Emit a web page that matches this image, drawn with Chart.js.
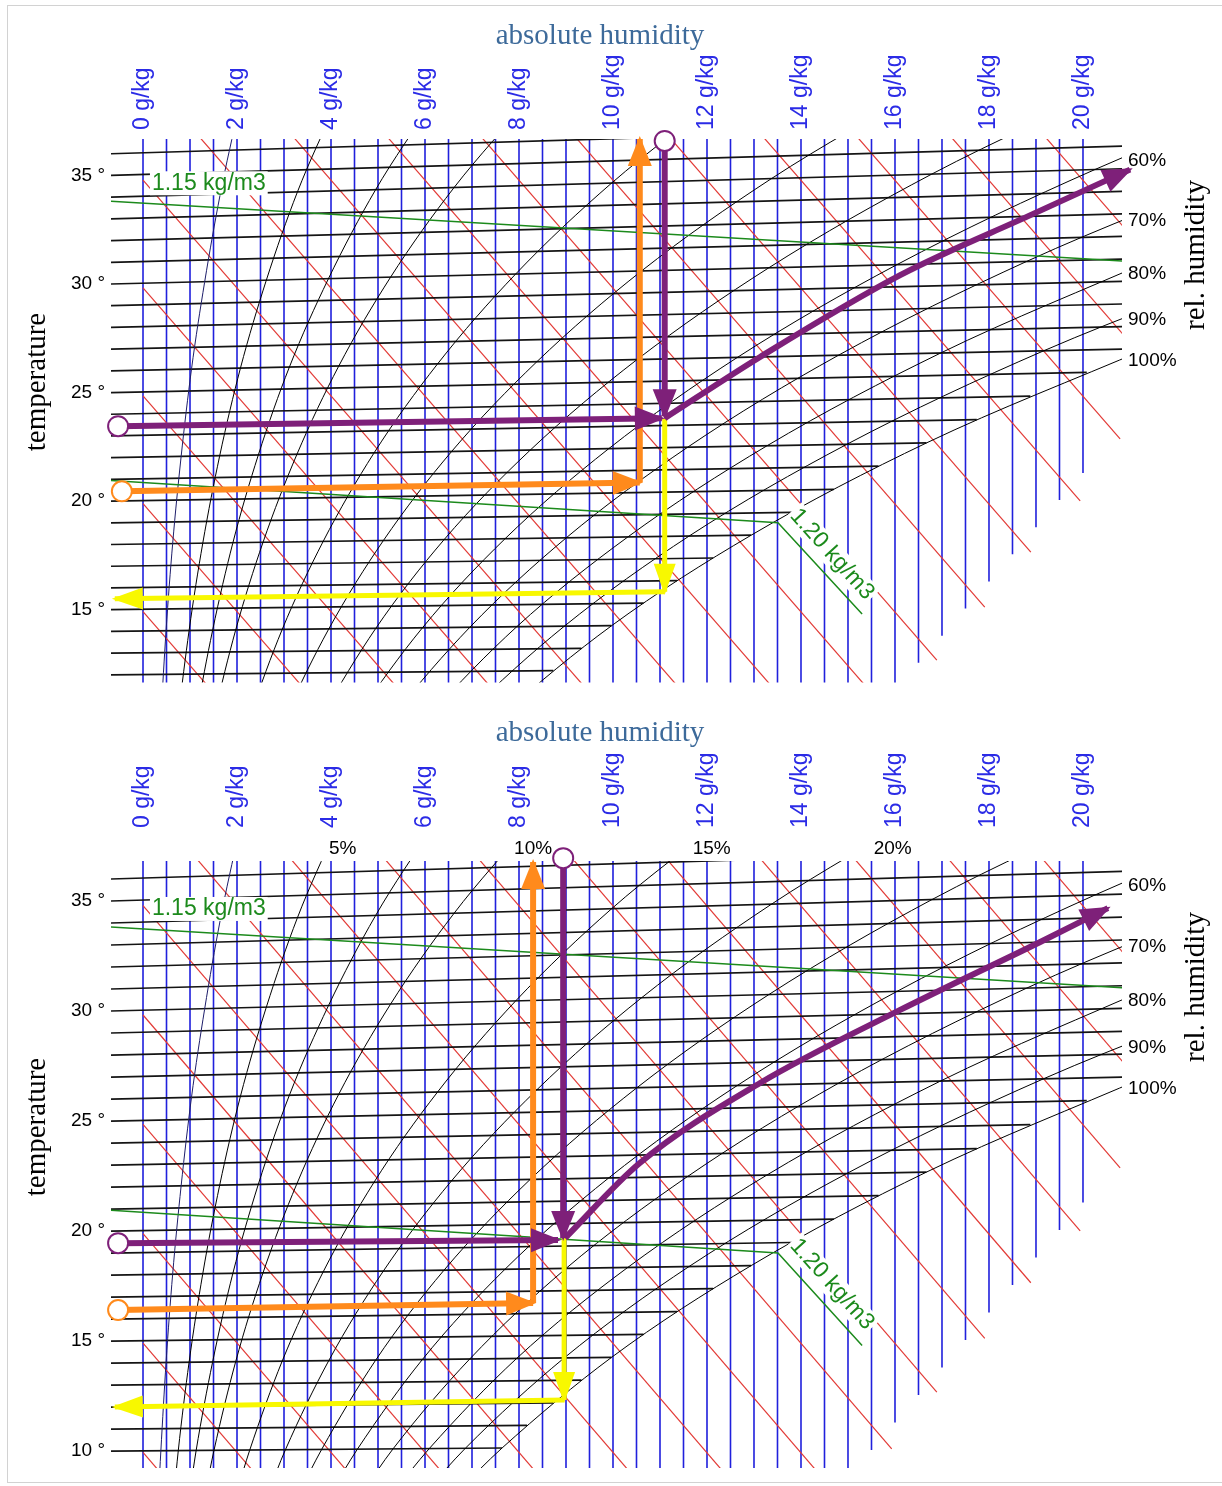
<!DOCTYPE html>
<html>
<head>
<meta charset="utf-8">
<script src="https://cdn.jsdelivr.net/npm/chart.js@4.4.1/dist/chart.umd.min.js"></script>
<style>
body { margin: 0; background: #fff; }
#wrap { position: relative; width: 1222px; height: 1486px; overflow: hidden; }
#frame { position: absolute; left: 7px; top: 5px; width: 1230px; height: 1478px; border: 1px solid #d2d2d2; box-sizing: border-box; }
canvas { position: absolute; left: 0; }
#c1 { top: 0; }
#c2 { top: 700px; }
</style>
</head>
<body>
<div id="wrap">
  <div id="frame"></div>
  <canvas id="c1" width="1222" height="700"></canvas>
  <canvas id="c2" width="1222" height="786"></canvas>
</div>
<script>
// x = absolute humidity (g/kg), y = temperature (deg C, read at 0 g/kg)
var xTicks = [0, 2, 4, 6, 8, 10, 12, 14, 16, 18, 20];
var tempTicksTop = [15, 20, 25, 30, 35];
var tempTicksBottom = [10, 15, 20, 25, 30, 35];

// blue lines of constant absolute humidity and the temperature where each one stops
var blueX = [0, 0.5, 1, 1.5, 2, 2.5, 3, 3.5, 4, 4.5, 5, 5.5, 6, 6.5, 7, 7.5, 8, 8.5, 9, 9.5,
  10, 10.5, 11, 11.5, 12, 12.5, 13, 13.5, 14, 14.5, 15, 15.5, 16, 16.5, 17, 17.5, 18, 18.5, 19, 19.5, 20];
var blueEnd = [5, 5, 5, 5, 5, 5, 5, 5, 5, 5, 5, 5, 5, 5, 5, 5, 5, 5, 5, 5,
  5, 5, 5, 5, 5, 5, 5, 5, 5, 5, 5, 10.05, 11.3, 12.55, 13.8, 15.05, 16.3, 17.55, 18.8, 20.05, 21.3];

// isotherms (black, slightly rising), end point at saturation or right border
var isoT = [10, 11, 12, 13, 14, 15, 16, 17, 18, 19, 20, 21, 22, 23, 24, 25, 26, 27, 28, 29, 30, 31, 32, 33, 34, 35, 36];
var isoEndX = [7.64, 8.17, 8.73, 9.33, 9.97, 10.65, 11.36, 12.13, 12.94, 13.79, 14.70, 15.65, 16.67, 17.74, 18.88, 20.08,
  20.83, 20.83, 20.83, 20.83, 20.83, 20.83, 20.83, 20.83, 20.83, 20.83, 20.83];
var isoEndY = [10.14, 11.17, 12.19, 13.22, 14.26, 15.30, 16.34, 17.38, 18.43, 19.48, 20.54, 21.61, 22.68, 23.75, 24.84, 25.93,
  27.00, 28.04, 29.08, 30.12, 31.15, 32.19, 33.23, 34.27, 35.31, 36.35, 37.39];

// red lines of constant enthalpy (kJ/kg)
var redH = [10, 15, 20, 25, 30, 35, 40, 45, 50, 55, 60, 65, 70, 75, 80, 85];
var redStart = [[0, 9.94], [0, 14.91], [0, 19.88], [0, 24.85], [0, 29.82], [0, 34.79], [0, 39.76], [0, 44.73],
  [0, 49.70], [0, 54.67], [0, 59.64], [0, 64.61], [0, 69.58], [0, 74.55], [0, 79.52], [0, 84.49]];
var redEnd = [[2.39, 4], [4.39, 4], [6.39, 4], [8.39, 4], [10.39, 4], [12.39, 4], [14.38, 4], [16.38, 4],
  [15.93, 10.10], [16.89, 12.68], [17.91, 15.12], [18.89, 17.65], [19.94, 20.01], [20.79, 22.87], [20.9, 27.56], [20.9, 32.54]];

// relative humidity curves
var rhPct = [5, 10, 15, 20, 30, 40, 50, 60, 70, 80, 90, 100];
var rhCurves = [
  [[0.33, 8.00], [0.38, 10.01], [0.49, 14.01], [0.63, 18.02], [0.81, 22.03], [1.03, 26.05], [1.31, 30.07], [1.64, 34.10], [2.04, 38.14]],
  [[0.66, 8.01], [0.75, 10.01], [0.98, 14.03], [1.27, 18.04], [1.63, 22.07], [2.07, 26.10], [2.62, 30.15], [3.28, 34.21], [4.10, 38.29]],
  [[0.99, 8.01], [1.13, 10.02], [1.48, 14.04], [1.91, 18.06], [2.45, 22.10], [3.11, 26.15], [3.94, 30.22], [4.94, 34.31], [6.17, 38.43]],
  [[1.32, 8.02], [1.51, 10.03], [1.97, 14.05], [2.55, 18.08], [3.27, 22.13], [4.16, 26.20], [5.26, 30.29], [6.61, 34.42], [8.25, 38.58]],
  [[1.98, 8.03], [2.27, 10.04], [2.96, 14.08], [3.83, 18.13], [4.91, 22.20], [6.26, 26.30], [7.92, 30.44], [9.96, 34.63], [12.45, 38.88]],
  [[2.65, 8.04], [3.03, 10.06], [3.95, 14.10], [5.11, 18.17], [6.56, 22.27], [8.37, 26.40], [10.60, 30.59], [13.36, 34.84], [16.72, 39.18]],
  [[3.31, 8.05], [3.80, 10.07], [4.95, 14.13], [6.40, 18.21], [8.23, 22.33], [10.50, 26.50], [13.31, 30.74], [16.78, 35.06], [21.04, 39.48]],
  [[3.98, 8.06], [4.56, 10.08], [5.94, 14.15], [7.70, 18.26], [9.90, 22.40], [12.64, 26.61], [16.04, 30.89], [20.25, 35.27], [25.44, 39.79]],
  [[4.65, 8.07], [5.32, 10.10], [6.95, 14.18], [9.00, 18.30], [11.58, 22.47], [14.79, 26.71], [18.80, 31.04], [23.76, 35.49]],
  [[5.31, 8.08], [6.09, 10.11], [7.95, 14.21], [10.31, 18.34], [13.27, 22.54], [16.97, 26.82], [21.57, 31.20]],
  [[5.99, 8.09], [6.86, 10.13], [8.96, 14.23], [11.62, 18.39], [14.97, 22.61], [19.16, 26.92], [24.39, 31.35]],
  [[6.66, 8.10], [7.64, 10.14], [9.97, 14.26], [12.94, 18.43], [16.67, 22.68], [21.36, 27.03]]
];
var rhLabels = ['60%', '70%', '80%', '90%', '100%'];
var rhLabelY = [35.7, 32.9, 30.45, 28.35, 26.45];

// density lines
var dens115 = [[-0.7, 33.82], [20.83, 31.06]];
var dens120 = [[-0.7, 20.95], [13.51, 19.0], [15.3, 14.8]];

// labels above the lower chart
var pctLabels = ['5%', '10%', '15%', '20%'];
var pctX = [4.25, 8.3, 12.1, 15.95];

// process arrows, upper chart
var purpleIn1 = [[-0.53, 23.45], [11.04, 23.82]];
var purpleDown1 = [[11.1, 36.59], [11.1, 23.91]];
var purpleOut1 = [[11.1, 23.82], [13.13, 26.64], [16.11, 30.41], [18.94, 33.23], [21.0, 35.27]];
var orangeIn1 = [[-0.45, 20.45], [10.57, 20.86]];
var orangeUp1 = [[10.57, 20.86], [10.57, 36.68]];
var yellowDown1 = [[11.1, 23.82], [11.1, 15.82]];
var yellowOut1 = [[11.1, 15.82], [-0.6, 15.5]];

// process arrows, lower chart
var purpleIn2 = [[-0.53, 19.45], [8.83, 19.59]];
var purpleDown2 = [[8.94, 36.95], [8.94, 19.68]];
var purpleOut2 = [[8.98, 19.68], [10.57, 23.09], [13.13, 26.73], [16.11, 30.05], [19.09, 33.14], [20.53, 34.68]];
var orangeIn2 = [[-0.53, 16.41], [8.3, 16.73]];
var orangeUp2 = [[8.3, 16.73], [8.3, 36.77]];
var yellowDown2 = [[8.96, 19.68], [8.96, 12.32]];
var yellowOut2 = [[8.96, 12.32], [-0.6, 12.0]];

var BLUE = '#2020dc';
var RED = '#e23a36';
var GREEN = '#1c8a1c';
var PURPLE = '#7e2079';
var ORANGE = '#ff8a1c';
var YELLOW = '#f8f800';

function lineSet(points, color, width, order, extra) {
  var ds = {
    data: points.map(function (p) { return { x: p[0], y: p[1] }; }),
    showLine: true, fill: false, borderColor: color, borderWidth: width,
    pointRadius: 0, order: order
  };
  for (var k in extra) ds[k] = extra[k];
  return ds;
}

function gridSets() {
  var sets = [];
  blueX.forEach(function (x, i) { sets.push(lineSet([[x, 40], [x, blueEnd[i]]], BLUE, 1.6, 60)); });
  redH.forEach(function (h, i) { sets.push(lineSet([redStart[i], redEnd[i]], RED, 1.2, 50)); });
  isoT.forEach(function (t, i) { sets.push(lineSet([[-0.7, t], [isoEndX[i], isoEndY[i]]], '#141414', 1.7, 40)); });
  rhCurves.forEach(function (c, i) {
    sets.push(lineSet(c, i == 0 ? '#1d1d6a' : '#000', 1, 30, { cubicInterpolationMode: 'monotone' }));
  });
  sets.push(lineSet(dens115, GREEN, 1.5, 20));
  sets.push(lineSet(dens120, GREEN, 1.5, 20));
  return sets;
}

function arrowSet(points, color, width, circle, order, curved) {
  return lineSet(points, color, width, order, {
    clip: false, arrow: true, borderCapStyle: 'butt',
    cubicInterpolationMode: curved ? 'monotone' : 'default',
    pointRadius: function (c) { return circle && c.dataIndex == 0 ? 10 : 0; },
    pointBackgroundColor: '#fff', pointBorderColor: color, pointBorderWidth: 2
  });
}

var arrowPlugin = {
  id: 'arrowHeads',
  afterDatasetsDraw: function (chart) {
    var ctx = chart.ctx;
    chart.data.datasets.forEach(function (ds, i) {
      if (!ds.arrow) return;
      var pts = chart.getDatasetMeta(i).data;
      var p1 = pts[pts.length - 2], p2 = pts[pts.length - 1];
      var a = Math.atan2(p2.y - p1.y, p2.x - p1.x);
      var len = ds.borderWidth > 5 ? 27 : 28, half = ds.borderWidth > 5 ? 12 : 11;
      ctx.save();
      ctx.translate(p2.x, p2.y);
      ctx.rotate(a);
      ctx.beginPath();
      ctx.moveTo(3, 0);
      ctx.lineTo(-len, -half);
      ctx.lineTo(-len, half);
      ctx.closePath();
      ctx.fillStyle = ds.borderColor;
      ctx.fill();
      ctx.restore();
    });
  }
};

function rotText(ctx, text, x, y) {
  ctx.save();
  ctx.translate(x, y);
  ctx.rotate(-Math.PI / 2);
  ctx.fillText(text, 0, 0);
  ctx.restore();
}

function boxedText(ctx, text, x, y, angle) {
  ctx.save();
  ctx.translate(x, y);
  ctx.rotate(angle);
  var w = ctx.measureText(text).width;
  ctx.fillStyle = '#fff';
  ctx.fillRect(-2, -12, w + 4, 24);
  ctx.fillStyle = GREEN;
  ctx.fillText(text, 0, 0);
  ctx.restore();
}

function textPlugin(cfg) {
  return {
    id: 'panelText',
    afterDraw: function (chart) {
      var ctx = chart.ctx, xs = chart.scales.x, ys = chart.scales.y, area = chart.chartArea;
      ctx.save();
      ctx.textBaseline = 'middle';
      ctx.textAlign = 'center';
      ctx.fillStyle = '#3d6a9a';
      ctx.font = '29px "Liberation Serif"';
      ctx.fillText('absolute humidity', 600, cfg.titleY);
      ctx.fillStyle = '#000';
      rotText(ctx, 'temperature', 37, cfg.tempY);
      rotText(ctx, 'rel. humidity', 1196, cfg.relY);

      ctx.font = '19px "Liberation Sans"';
      ctx.textAlign = 'left';
      rhLabels.forEach(function (l, i) {
        ctx.fillText(l, area.right + 6, ys.getPixelForValue(rhLabelY[i]));
      });
      if (cfg.pct) {
        ctx.textAlign = 'center';
        pctLabels.forEach(function (l, i) {
          ctx.fillText(l, xs.getPixelForValue(pctX[i]), area.top - 12);
        });
      }
      ctx.textAlign = 'left';
      ctx.font = '23px "Liberation Sans"';
      boxedText(ctx, '1.15 kg/m3', xs.getPixelForValue(0.19), ys.getPixelForValue(34.64), 0);
      boxedText(ctx, '1.20 kg/m3', xs.getPixelForValue(13.85), ys.getPixelForValue(19.5), 48 * Math.PI / 180);
      ctx.restore();
    }
  };
}

function makeChart(id, cfg) {
  return new Chart(id, {
    type: 'scatter',
    data: { datasets: gridSets().concat(cfg.arrows) },
    options: {
      responsive: false,
      animation: false,
      events: [],
      layout: { padding: { left: 0, top: 0, right: 100, bottom: cfg.padBottom } },
      plugins: { legend: { display: false }, tooltip: { enabled: false } },
      scales: {
        x: {
          type: 'linear', position: 'top', min: -0.681, max: 20.83,
          afterBuildTicks: function (s) { s.ticks = xTicks.map(function (v) { return { value: v }; }); },
          afterFit: function (s) { s.height = cfg.top; },
          grid: { display: false, drawTicks: false }, border: { display: false },
          ticks: {
            autoSkip: false, minRotation: 90, maxRotation: 90, padding: cfg.tickPad, labelOffset: 27,
            color: '#2b2be6', font: { family: 'Liberation Sans', size: 23 },
            callback: function (v) { return v + ' g/kg'; }
          }
        },
        y: {
          type: 'linear', position: 'left', min: cfg.yMin, max: cfg.yMax,
          afterBuildTicks: function (s) { s.ticks = cfg.yTicks.map(function (v) { return { value: v }; }); },
          afterFit: function (s) { s.width = 111; },
          grid: { display: false, drawTicks: false }, border: { display: false },
          ticks: {
            padding: 6, color: '#000', font: { family: 'Liberation Sans', size: 19 },
            callback: function (v) { return v + ' °'; }
          }
        }
      }
    },
    plugins: [arrowPlugin, textPlugin(cfg)]
  });
}

makeChart('c1', {
  top: 139, padBottom: 10, tickPad: 9, yMin: 11.64, yMax: 36.68, yTicks: tempTicksTop,
  titleY: 36, tempY: 382, relY: 255, pct: false,
  arrows: [
    arrowSet(yellowDown1, YELLOW, 5, false, 5),
    arrowSet(yellowOut1, YELLOW, 5, false, 5),
    arrowSet(orangeIn1, ORANGE, 6, true, 4),
    arrowSet(orangeUp1, ORANGE, 6, false, 4),
    arrowSet(purpleIn1, PURPLE, 6, true, 3),
    arrowSet(purpleDown1, PURPLE, 6, true, 3),
    arrowSet(purpleOut1, PURPLE, 6, false, 3, true)
  ]
});

makeChart('c2', {
  top: 161, padBottom: 18, tickPad: 33, yMin: 9.23, yMax: 36.82, yTicks: tempTicksBottom,
  titleY: 33, tempY: 427, relY: 287, pct: true,
  arrows: [
    arrowSet(yellowDown2, YELLOW, 5, false, 5),
    arrowSet(yellowOut2, YELLOW, 5, false, 5),
    arrowSet(orangeIn2, ORANGE, 6, true, 4),
    arrowSet(orangeUp2, ORANGE, 6, false, 4),
    arrowSet(purpleIn2, PURPLE, 6, true, 3),
    arrowSet(purpleDown2, PURPLE, 6, true, 3),
    arrowSet(purpleOut2, PURPLE, 6, false, 3, true)
  ]
});
</script>
</body>
</html>
